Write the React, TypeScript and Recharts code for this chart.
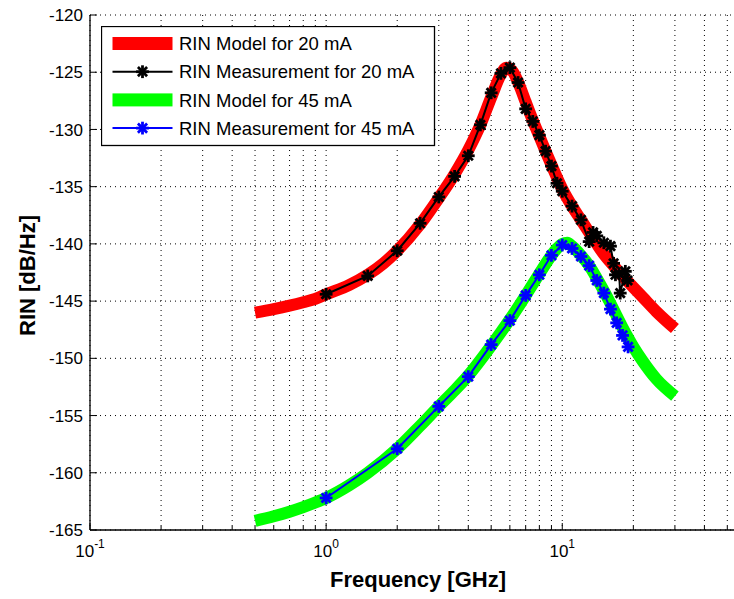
import React from "react";
import { LineChart, Line, XAxis, YAxis, CartesianGrid, Legend, Label } from "recharts";

// RIN model / measurement, 20 mA
const freqModel20 = [0.5, 0.6, 0.7, 0.8, 0.9, 1, 1.25, 1.5, 1.75, 2, 2.5, 3, 3.5, 4, 4.5, 5, 5.5, 5.8, 6.2, 6.6, 7, 7.5, 8, 8.5, 9, 10, 11, 12, 13, 14, 15, 16, 18, 20, 22, 25, 30];
const rinModel20 = [-146.0, -145.7, -145.4, -145.1, -144.8, -144.4, -143.6, -142.7, -141.7, -140.6, -138.3, -136.0, -133.9, -131.8, -129.6, -127.2, -125.2, -124.6, -125.0, -126.2, -127.6, -129.2, -130.6, -131.9, -133.1, -135.2, -136.7, -137.9, -139.0, -140.0, -140.9, -141.6, -142.8, -143.8, -144.7, -145.9, -147.4];

const freqMeas20 = [1, 1.5, 2, 2.5, 3, 3.5, 4, 4.5, 5, 5.5, 6, 6.5, 7, 7.5, 8, 8.5, 9, 9.5, 10, 11, 12, 13, 13.5, 14, 15, 16, 16.5, 16.8, 17.4, 17.6, 18.5, 18.9];
const rinMeas20 = [-144.4, -142.8, -140.6, -138.2, -135.9, -134.1, -132.3, -129.6, -126.8, -125.1, -124.6, -125.9, -128.2, -129.3, -130.5, -131.9, -133.2, -134.7, -135.4, -136.7, -137.9, -139.8, -139.0, -139.3, -139.9, -140.2, -141.7, -142.7, -142.6, -144.3, -142.4, -143.2];

// RIN model / measurement, 45 mA
const freqModel45 = [0.5, 0.6, 0.7, 0.8, 0.9, 1, 1.25, 1.5, 2, 2.5, 3, 3.5, 4, 5, 6, 7, 8, 9, 9.5, 10, 10.5, 11, 12, 13, 14, 15, 16, 17, 18, 19, 20, 22, 25, 30];
const rinModel45 = [-164.2, -163.8, -163.4, -163.0, -162.6, -162.2, -161.1, -160.0, -157.9, -155.9, -154.2, -152.8, -151.5, -148.9, -146.6, -144.5, -142.6, -141.0, -140.4, -140.0, -139.9, -140.2, -141.0, -141.9, -143.0, -144.1, -145.2, -146.3, -147.3, -148.2, -149.0, -150.3, -151.8, -153.3];

const freqMeas45 = [1, 2, 3, 4, 5, 6, 7, 8, 9, 10, 11, 12, 13, 14, 15, 16, 17, 18, 19];
const rinMeas45 = [-162.2, -157.9, -154.2, -151.6, -148.8, -146.7, -144.5, -142.7, -141.0, -140.1, -140.4, -141.1, -141.9, -143.2, -144.3, -145.7, -146.9, -148.0, -149.0];

// axes
const xTicks = [0.1, 0.2, 0.3, 0.4, 0.5, 0.6, 0.7, 0.8, 0.9, 1, 2, 3, 4, 5, 6, 7, 8, 9, 10, 20, 30, 40, 50, 60];
const xDecades = [0.1, 1, 10];
const xExponents = ["-1", "0", "1"];
const yTicks = [-165, -160, -155, -150, -145, -140, -135, -130, -125, -120];

const series = [
  { name: "RIN Model for 20 mA", color: "#ff0000", band: true },
  { name: "RIN Measurement for 20 mA", color: "#000000", band: false },
  { name: "RIN Model for 45 mA", color: "#00ff00", band: true },
  { name: "RIN Measurement for 45 mA", color: "#0000ff", band: false },
];

const zip = (f: number[], v: number[]) => f.map((x, i) => ({ f: x, rin: v[i] }));

const model20 = zip(freqModel20, rinModel20);
const meas20 = zip(freqMeas20, rinMeas20);
const model45 = zip(freqModel45, rinModel45);
const meas45 = zip(freqMeas45, rinMeas45);

const FONT = '"Liberation Sans", Arial, Helvetica, sans-serif';

// matlab-style "*" marker, drawn thick so it reads as a blob
function Star({ cx, cy, color }: any) {
  if (cx == null || cy == null) return null;
  const r = 5;
  const d = r * 0.72;
  return (
    <g stroke={color} strokeWidth={2.8} strokeLinecap="square">
      <line x1={cx - r} y1={cy} x2={cx + r} y2={cy} />
      <line x1={cx} y1={cy - r} x2={cx} y2={cy + r} />
      <line x1={cx - d} y1={cy - d} x2={cx + d} y2={cy + d} />
      <line x1={cx - d} y1={cy + d} x2={cx + d} y2={cy - d} />
    </g>
  );
}

function starDot(color: string) {
  return (props: any) => <Star key={props.index} cx={props.cx} cy={props.cy} color={color} />;
}

function XTickBottom({ x, y, payload }: any) {
  const i = xDecades.indexOf(payload.value);
  const major = i >= 0;
  return (
    <g>
      <line x1={x} y1={y} x2={x} y2={y - (major ? 7 : 4)} stroke="#000" />
      {major && (
        <text x={x} y={y + 27} fontFamily={FONT} fontSize={17} textAnchor="middle" fill="#000">
          <tspan>10</tspan>
          <tspan dy={-9} fontSize={12}>{xExponents[i]}</tspan>
        </text>
      )}
    </g>
  );
}

function XTickTop({ x, y, payload }: any) {
  const major = xDecades.indexOf(payload.value) >= 0;
  return <line x1={x} y1={y} x2={x} y2={y + (major ? 7 : 4)} stroke="#000" />;
}

function YTick({ x, y, payload }: any) {
  return (
    <g>
      <line x1={x} y1={y} x2={x + 7} y2={y} stroke="#000" />
      <text x={x - 7} y={y} dy="0.36em" fontFamily={FONT} fontSize={17} textAnchor="end" fill="#000">
        {payload.value}
      </text>
    </g>
  );
}

function LegendBox() {
  return (
    <svg width={335} height={121}>
      <rect x={0.5} y={0.5} width={333} height={119} fill="#fff" stroke="#000" strokeWidth={1.3} />
      {series.map((s, i) => {
        const cy = 17.5 + i * 28.2;
        return (
          <g key={s.name}>
            {s.band ? (
              <rect x={11.5} y={cy - 6.5} width={60} height={13} fill={s.color} />
            ) : (
              <>
                <line x1={11.5} y1={cy} x2={71.5} y2={cy} stroke={s.color} strokeWidth={2} />
                <Star cx={41.5} cy={cy} color={s.color} />
              </>
            )}
            <text x={78} y={cy} dy="0.36em" fontFamily={FONT} fontSize={18.5} fill="#000">
              {s.name}
            </text>
          </g>
        );
      })}
    </svg>
  );
}

export default function App() {
  return (
    <div style={{ position: "absolute", left: 0, top: 0, width: 734, height: 599, overflow: "hidden", background: "#fff" }}>
      <LineChart width={800} height={599} margin={{ top: 15, right: 54, bottom: 0, left: 0 }}>
        <CartesianGrid stroke="#000" strokeDasharray="1 4" strokeWidth={1} />
        <XAxis
          dataKey="f"
          type="number"
          scale="log"
          domain={[0.1, 60]}
          allowDataOverflow
          ticks={xTicks}
          interval={0}
          height={69}
          tickSize={0}
          tickMargin={0}
          tickLine={false}
          axisLine={{ stroke: "#000", strokeWidth: 1.3 }}
          tick={<XTickBottom />}
        >
          <Label
            content={({ viewBox }: any) => (
              <text
                x={viewBox.x + viewBox.width / 2}
                y={viewBox.y + 57}
                textAnchor="middle"
                fontFamily={FONT}
                fontSize={22}
                fontWeight="bold"
                fill="#000"
              >
                Frequency [GHz]
              </text>
            )}
          />
        </XAxis>
        <XAxis
          xAxisId="top"
          orientation="top"
          dataKey="f"
          type="number"
          scale="log"
          domain={[0.1, 60]}
          allowDataOverflow
          ticks={xTicks}
          interval={0}
          height={0}
          tickSize={0}
          tickMargin={0}
          tickLine={false}
          axisLine={{ stroke: "#000", strokeWidth: 1.3 }}
          tick={<XTickTop />}
        />
        <YAxis
          type="number"
          domain={[-165, -120]}
          ticks={yTicks}
          interval={0}
          width={90}
          tickSize={0}
          tickMargin={0}
          tickLine={false}
          axisLine={{ stroke: "#000", strokeWidth: 1.3 }}
          tick={<YTick />}
        >
          <Label
            content={({ viewBox }: any) => {
              const cx = viewBox.x + 27;
              const cy = viewBox.y + viewBox.height / 2 + 3;
              return (
                <text
                  x={cx}
                  y={cy}
                  transform={`rotate(-90 ${cx} ${cy})`}
                  textAnchor="middle"
                  dy="0.36em"
                  fontFamily={FONT}
                  fontSize={22}
                  fontWeight="bold"
                  fill="#000"
                >
                  RIN [dB/Hz]
                </text>
              );
            }}
          />
        </YAxis>
        <Legend
          layout="horizontal"
          verticalAlign="middle"
          align="center"
          wrapperStyle={{ left: 101, top: 26, width: 335, height: 121 }}
          content={() => <LegendBox />}
        />
        <Line
          data={model20}
          dataKey="rin"
          name={series[0].name}
          type="monotone"
          stroke={series[0].color}
          strokeWidth={12}
          dot={false}
          activeDot={false}
          isAnimationActive={false}
        />
        <Line
          data={meas20}
          dataKey="rin"
          name={series[1].name}
          type="linear"
          stroke={series[1].color}
          strokeWidth={2}
          dot={starDot(series[1].color)}
          activeDot={false}
          isAnimationActive={false}
        />
        <Line
          data={model45}
          dataKey="rin"
          name={series[2].name}
          type="monotone"
          stroke={series[2].color}
          strokeWidth={12}
          dot={false}
          activeDot={false}
          isAnimationActive={false}
        />
        <Line
          data={meas45}
          dataKey="rin"
          name={series[3].name}
          type="linear"
          stroke={series[3].color}
          strokeWidth={2}
          dot={starDot(series[3].color)}
          activeDot={false}
          isAnimationActive={false}
        />
      </LineChart>
    </div>
  );
}
